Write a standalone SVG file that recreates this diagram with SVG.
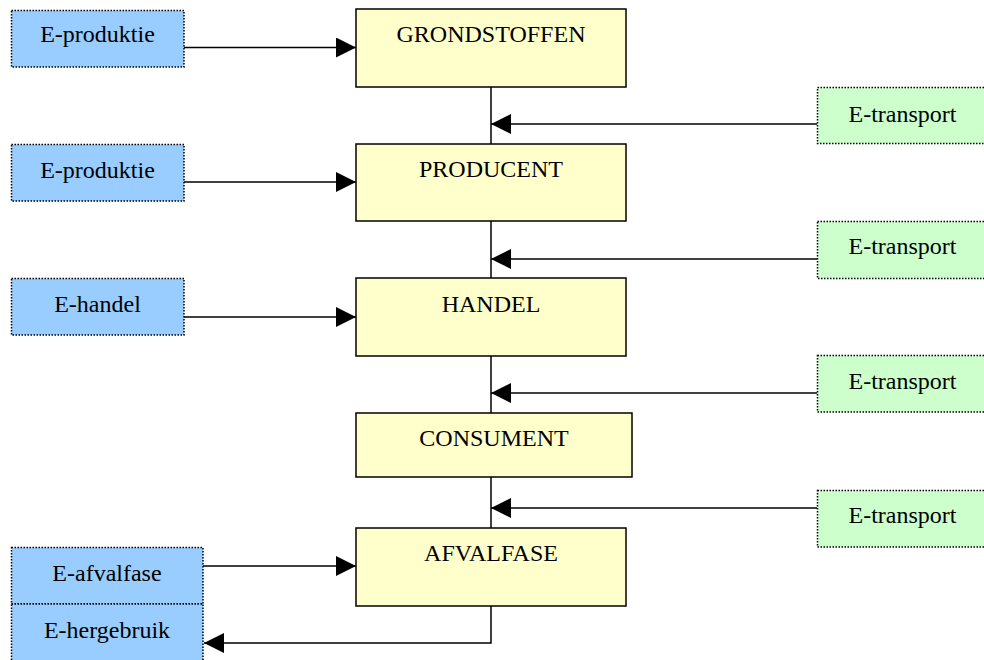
<svg xmlns="http://www.w3.org/2000/svg" width="984" height="660" viewBox="0 0 984 660">
<style>
.main{fill:#FFFFCC;stroke:#000;stroke-width:1.5}
.blue{fill:#99CCFF;stroke:#000;stroke-width:1.5;stroke-dasharray:1.5,1.5}
.green{fill:#CCFFCC;stroke:#000;stroke-width:1.5;stroke-dasharray:1.5,1.5}
text{font-family:"Liberation Serif","Times New Roman",serif;font-size:24px;fill:#000;text-anchor:middle}
.conn{fill:none;stroke:#000;stroke-width:1.5}
</style>
<defs>
<marker id="ah" markerUnits="userSpaceOnUse" markerWidth="20" markerHeight="20" refX="20" refY="10" orient="auto">
<path d="M0,0 L20,10 L0,20 Z" fill="#000"/>
</marker>
</defs>
<rect width="984" height="660" fill="#fff"/>
<g id="connectors">
<line class="conn" x1="491" y1="87" x2="491" y2="144"/>
<line class="conn" x1="491" y1="221" x2="491" y2="278"/>
<line class="conn" x1="491" y1="356" x2="491" y2="413"/>
<line class="conn" x1="491" y1="477" x2="491" y2="528"/>
<line class="conn" x1="184" y1="47.5" x2="356" y2="47.5" marker-end="url(#ah)"/>
<line class="conn" x1="817" y1="124" x2="491" y2="124" marker-end="url(#ah)"/>
<line class="conn" x1="184" y1="182" x2="356" y2="182" marker-end="url(#ah)"/>
<line class="conn" x1="817" y1="259" x2="491" y2="259" marker-end="url(#ah)"/>
<line class="conn" x1="184" y1="317" x2="356" y2="317" marker-end="url(#ah)"/>
<line class="conn" x1="817" y1="393" x2="491" y2="393" marker-end="url(#ah)"/>
<line class="conn" x1="817" y1="508" x2="491" y2="508" marker-end="url(#ah)"/>
<line class="conn" x1="203" y1="566" x2="356" y2="566" marker-end="url(#ah)"/>
<path class="conn" d="M491,606 V643 H204" marker-end="url(#ah)"/>
</g>
<g id="grondstoffen"><rect class="main" x="356" y="9" width="270" height="78"/><text x="491" y="42">GRONDSTOFFEN</text></g>
<g id="producent"><rect class="main" x="356" y="144" width="270" height="77"/><text x="491" y="177">PRODUCENT</text></g>
<g id="handel"><rect class="main" x="356" y="278" width="270" height="78"/><text x="491" y="312">HANDEL</text></g>
<g id="consument"><rect class="main" x="356" y="413" width="276" height="64"/><text x="494" y="446">CONSUMENT</text></g>
<g id="afvalfase"><rect class="main" x="356" y="528" width="270" height="78"/><text x="491" y="561">AFVALFASE</text></g>
<g id="e-produktie-1"><rect class="blue" x="11.5" y="10.5" width="172.5" height="56.5"/><text x="97.5" y="42">E-produktie</text></g>
<g id="e-produktie-2"><rect class="blue" x="11.5" y="144.5" width="172.5" height="56.5"/><text x="97.5" y="178">E-produktie</text></g>
<g id="e-handel"><rect class="blue" x="11.5" y="278.5" width="172.5" height="56.5"/><text x="97.5" y="312">E-handel</text></g>
<g id="e-afvalfase"><rect class="blue" x="11.5" y="547.5" width="191.5" height="56.5"/><text x="107" y="581">E-afvalfase</text></g>
<g id="e-hergebruik"><rect class="blue" x="11.5" y="604" width="191.5" height="60"/><text x="107" y="638">E-hergebruik</text></g>
<g id="e-transport-1"><rect class="green" x="817.5" y="87.5" width="172" height="56"/><text x="902.5" y="122">E-transport</text></g>
<g id="e-transport-2"><rect class="green" x="817.5" y="221.5" width="172" height="57"/><text x="902.5" y="254">E-transport</text></g>
<g id="e-transport-3"><rect class="green" x="817.5" y="355.5" width="172" height="56.5"/><text x="902.5" y="389">E-transport</text></g>
<g id="e-transport-4"><rect class="green" x="817.5" y="490.5" width="172" height="56.5"/><text x="902.5" y="523">E-transport</text></g>
</svg>
